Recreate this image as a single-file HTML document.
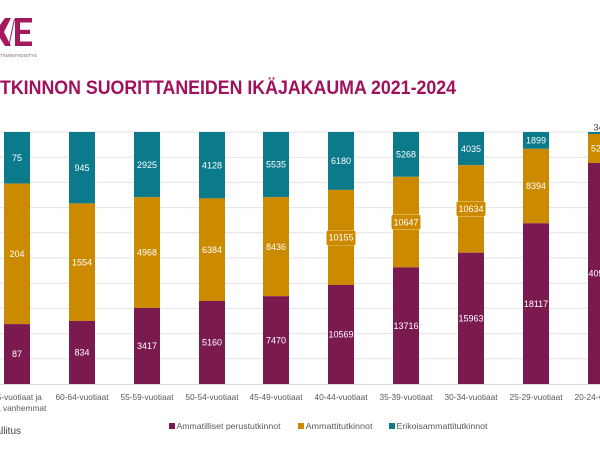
<!DOCTYPE html>
<html><head><meta charset="utf-8"><style>
html,body{margin:0;padding:0;background:#fff;}
svg{display:block;font-family:"Liberation Sans",sans-serif;}
</style></head><body>
<svg width="600" height="450" viewBox="0 0 600 450" xmlns="http://www.w3.org/2000/svg">
<rect width="600" height="450" fill="#fff"/>
<!-- logo -->
<g fill="#a3195b">
<polygon points="0,25 5,18 11,18 4,32 11,46 5,46 0,38"/>
<rect x="15" y="18" width="5" height="28"/>
<rect x="15" y="18" width="17" height="4.5"/>
<rect x="15" y="29.8" width="15" height="4.2"/>
<rect x="15" y="41.5" width="17" height="4.5"/>
<line x1="9" y1="45" x2="14.5" y2="19" stroke="#a3195b" stroke-width="1"/>
</g>
<text x="37" y="57" text-anchor="end" font-size="4.6" fill="#7a5a6a">KEHITTÄMISYHDISTYS</text>
<!-- title -->
<text x="0" y="94" text-anchor="end" font-size="19" font-weight="bold" fill="#a0105c">TU</text>
<text x="0" y="94" font-size="19" font-weight="bold" fill="#a0105c" textLength="456" lengthAdjust="spacingAndGlyphs">TKINNON SUORITTANEIDEN IKÄJAKAUMA 2021-2024</text>
<!-- gridlines -->
<g stroke="#e3e3e3" stroke-width="1">
<line x1="0" x2="600" y1="132" y2="132"/>
<line x1="0" x2="600" y1="157.2" y2="157.2"/>
<line x1="0" x2="600" y1="182.4" y2="182.4"/>
<line x1="0" x2="600" y1="207.6" y2="207.6"/>
<line x1="0" x2="600" y1="232.8" y2="232.8"/>
<line x1="0" x2="600" y1="258" y2="258"/>
<line x1="0" x2="600" y1="283.2" y2="283.2"/>
<line x1="0" x2="600" y1="308.4" y2="308.4"/>
<line x1="0" x2="600" y1="333.6" y2="333.6"/>
<line x1="0" x2="600" y1="358.8" y2="358.8"/>
</g>
<line x1="0" x2="600" y1="384.5" y2="384.5" stroke="#d9d9d9" stroke-width="1"/>
<!-- bars -->
<g>
<rect x="4" y="132" width="26" height="51.6" fill="#0b7a8b"/>
<rect x="4" y="183.6" width="26" height="140.5" fill="#cc8a00"/>
<rect x="4" y="324.1" width="26" height="59.9" fill="#7b1a4f"/>
<rect x="69" y="132" width="26" height="71.4" fill="#0b7a8b"/>
<rect x="69" y="203.4" width="26" height="117.5" fill="#cc8a00"/>
<rect x="69" y="320.9" width="26" height="63.1" fill="#7b1a4f"/>
<rect x="134" y="132" width="26" height="65.2" fill="#0b7a8b"/>
<rect x="134" y="197.2" width="26" height="110.7" fill="#cc8a00"/>
<rect x="134" y="307.9" width="26" height="76.1" fill="#7b1a4f"/>
<rect x="199" y="132" width="26" height="66.4" fill="#0b7a8b"/>
<rect x="199" y="198.4" width="26" height="102.6" fill="#cc8a00"/>
<rect x="199" y="301" width="26" height="83" fill="#7b1a4f"/>
<rect x="263" y="132" width="26" height="65.1" fill="#0b7a8b"/>
<rect x="263" y="197.1" width="26" height="99.1" fill="#cc8a00"/>
<rect x="263" y="296.2" width="26" height="87.8" fill="#7b1a4f"/>
<rect x="328" y="132" width="26" height="57.9" fill="#0b7a8b"/>
<rect x="328" y="189.9" width="26" height="95.1" fill="#cc8a00"/>
<rect x="328" y="285" width="26" height="99" fill="#7b1a4f"/>
<rect x="393" y="132" width="26" height="44.8" fill="#0b7a8b"/>
<rect x="393" y="176.8" width="26" height="90.6" fill="#cc8a00"/>
<rect x="393" y="267.4" width="26" height="116.6" fill="#7b1a4f"/>
<rect x="458" y="132" width="26" height="33.2" fill="#0b7a8b"/>
<rect x="458" y="165.2" width="26" height="87.5" fill="#cc8a00"/>
<rect x="458" y="252.7" width="26" height="131.3" fill="#7b1a4f"/>
<rect x="523" y="132" width="26" height="16.8" fill="#0b7a8b"/>
<rect x="523" y="148.8" width="26" height="74.5" fill="#cc8a00"/>
<rect x="523" y="223.3" width="26" height="160.7" fill="#7b1a4f"/>
<rect x="588" y="132" width="26" height="2" fill="#0b7a8b"/>
<rect x="588" y="134" width="26" height="29" fill="#cc8a00"/>
<rect x="588" y="163" width="26" height="221" fill="#7b1a4f"/>
</g>
<!-- boxed labels -->
<g fill="#cc8a00" stroke="#f0c878" stroke-width="0.6">
<rect x="326.5" y="230.5" width="29" height="15" rx="2"/>
<rect x="391.5" y="214.6" width="29" height="15" rx="2"/>
<rect x="456.5" y="201.4" width="29" height="15" rx="2"/>
</g>
<!-- data labels -->
<g font-size="9" fill="#fff" text-anchor="middle">
<text x="17" y="161">75</text>
<text x="17" y="257">204</text>
<text x="17" y="357.2">87</text>
<text x="82" y="170.9">945</text>
<text x="82" y="265.3">1554</text>
<text x="82" y="355.6">834</text>
<text x="147" y="167.8">2925</text>
<text x="147" y="255.7">4968</text>
<text x="147" y="349.1">3417</text>
<text x="212" y="168.4">4128</text>
<text x="212" y="252.9">6384</text>
<text x="212" y="345.7">5160</text>
<text x="276" y="167.7">5535</text>
<text x="276" y="249.8">8436</text>
<text x="276" y="343.3">7470</text>
<text x="341" y="164.1">6180</text>
<text x="341" y="240.6">10155</text>
<text x="341" y="337.7">10569</text>
<text x="406" y="157.6">5268</text>
<text x="406" y="225.3">10647</text>
<text x="406" y="328.9">13716</text>
<text x="471" y="151.8">4035</text>
<text x="471" y="212.1">10634</text>
<text x="471" y="321.5">15963</text>
<text x="536" y="143.6">1899</text>
<text x="536" y="189.2">8394</text>
<text x="536" y="306.8">18117</text>
<text x="601" y="151.6">5243</text>
<text x="601" y="276.6">40529</text>
<text x="601" y="130.5" fill="#404040">346</text>
</g>
<!-- category labels -->
<g font-size="8.3" fill="#595959" text-anchor="middle">
<text x="17" y="400">65-vuotiaat ja</text>
<text x="17" y="411">sitä vanhemmat</text>
<text x="82" y="400">60-64-vuotiaat</text>
<text x="147" y="400">55-59-vuotiaat</text>
<text x="212" y="400">50-54-vuotiaat</text>
<text x="276" y="400">45-49-vuotiaat</text>
<text x="341" y="400">40-44-vuotiaat</text>
<text x="406" y="400">35-39-vuotiaat</text>
<text x="471" y="400">30-34-vuotiaat</text>
<text x="536" y="400">25-29-vuotiaat</text>
<text x="601" y="400">20-24-vuotiaat</text>
</g>
<!-- legend -->
<rect x="169" y="423" width="6" height="6" fill="#7b1a4f"/>
<text x="176.5" y="429" font-size="8.7" fill="#595959" textLength="104" lengthAdjust="spacingAndGlyphs">Ammatilliset perustutkinnot</text>
<rect x="298" y="423" width="6" height="6" fill="#cc8a00"/>
<text x="305.5" y="429" font-size="8.7" fill="#595959" textLength="67" lengthAdjust="spacingAndGlyphs">Ammattitutkinnot</text>
<rect x="389" y="423" width="6" height="6" fill="#0b7a8b"/>
<text x="396.5" y="429" font-size="8.7" fill="#595959" textLength="91" lengthAdjust="spacingAndGlyphs">Erikoisammattitutkinnot</text>
<!-- source -->
<text x="21" y="434" text-anchor="end" font-size="10" fill="#404040">Lähde: Opetushallitus</text>
</svg>
</body></html>
